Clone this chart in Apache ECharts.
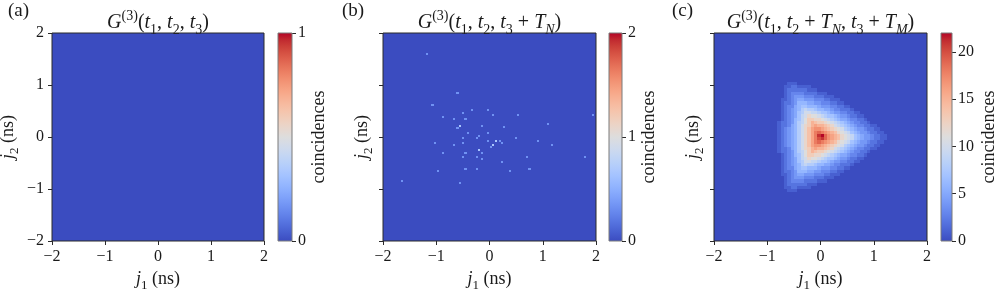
<!DOCTYPE html>
<html>
<head>
<meta charset="utf-8">
<script src="https://cdn.jsdelivr.net/npm/echarts@6.0.0/dist/echarts.min.js"></script>
<style>
html, body { margin: 0; padding: 0; background: #ffffff; }
#chart { width: 997px; height: 290px; }
</style>
</head>
<body>
<div id="chart"></div>
<script>
// ===================== DATA =====================
const axisTickValues = [-2, -1, 0, 1, 2];
const panelLetters = ['(a)', '(b)', '(c)'];
const panelTitles = [
  '{i|G}{p|(3)}{n|(}{i|t}{s|1}{n|, }{i|t}{s|2}{n|, }{i|t}{s|3}{n|)}',
  '{i|G}{p|(3)}{n|(}{i|t}{s|1}{n|, }{i|t}{s|2}{n|, }{i|t}{s|3}{n| + }{i|T}{si|N}{n|)}',
  '{i|G}{p|(3)}{n|(}{i|t}{s|1}{n|, }{i|t}{s|2}{n| + }{i|T}{si|N}{n|, }{i|t}{s|3}{n| + }{i|T}{si|M}{n|)}'
];
const xAxisName = '{i|j}{s|1}{n| (ns)}';
const yAxisName = '{i|j}{s|2}{n| (ns)}';
const colorbarName = 'coincidences';
const colorbarMax = [1, 2, 22];
const colorbarTicks = [[0, 1], [0, 1, 2], [0, 5, 10, 15, 20]];

// Counts per bin (64 x 64 bins of 1/16 ns). Rows run from j2 = +2 (top) to j2 = -2 (bottom).
// Row format: "start|digits" -> one base-36 digit per bin beginning at column `start`; "" = all zero.
// (a) no coincidences anywhere
const countsA = [
  "","","","","","","","","","","","","","","","",
  "","","","","","","","","","","","","","","","",
  "","","","","","","","","","","","","","","","",
  "","","","","","","","","","","","","","","",""
];
// (b) background bins (empty) ...
const countsB = [
  "","","","","","","","","","","","","","","","",
  "","","","","","","","","","","","","","","","",
  "","","","","","","","","","","","","","","","",
  "","","","","","","","","","","","","","","",""
];
// ... and the isolated coincidence events of (b): position (ns) and count
const eventsB_j1 = [-1.18, -0.60, -1.07, -0.33, -0.03, -0.50, 0.07, 0.54, 1.95, -0.87,
  -0.66, -0.45, 1.10, -0.55, -0.60, -0.14, 0.27, -0.40, -0.03, -0.19,
  -0.49, -0.24, 0.49, 0.91, -0.03, 0.13, 0.20, 0.23, 0.07, -1.02,
  -0.49, -0.66, 1.17, 0.02, -0.19, -0.14, -0.87, -0.45, -0.24, -0.49,
  0.70, 1.79, -0.14, 0.23, -0.97, -0.45, -0.24, 0.38, 0.75, -1.65, -0.55];
const eventsB_j2 = [1.60, 0.84, 0.61, 0.52, 0.52, 0.47, 0.43, 0.43, 0.43, 0.39,
  0.34, 0.34, 0.25, 0.21, 0.17, 0.21, 0.20, 0.07, 0.07, 0.02,
  -0.02, -0.02, -0.02, -0.07, -0.07, -0.07, -0.07, -0.11, -0.16, -0.11,
  -0.11, -0.16, -0.16, -0.20, -0.25, -0.30, -0.30, -0.30, -0.38, -0.38,
  -0.38, -0.38, -0.42, -0.48, -0.65, -0.62, -0.62, -0.65, -0.62, -0.84, -0.88];
const eventsB_count = [1, 1, 1, 1, 1, 1, 1, 1, 1, 1,
  1, 1, 1, 2, 1, 1, 1, 1, 1, 1,
  1, 1, 1, 1, 1, 2, 1, 1, 2, 1,
  1, 1, 1, 1, 2, 1, 1, 1, 1, 1,
  1, 1, 1, 1, 1, 1, 1, 1, 1, 1, 1];
// (c) counts
const countsC = [
  "", "", "", "", "", "", "", "", "", "", "", "", "", "", "",
  "22|111",
  "21|11221111",
  "21|1222222111",
  "21|1233332222111",
  "21|123444333222111",
  "20|112345544433322111",
  "20|1223466655443332211",
  "20|123356776665444332211",
  "20|1234568988766554332221",
  "20|1234578aa998776544332211",
  "20|1234579acbba9877654432211",
  "20|1234679bddccba987655433221",
  "19|12234689bdfeddcba98765433221",
  "19|1223568acdfgffedca987654332211",
  "19|1234568aceghhgfedcba87654432211",
  "19|1234568acegijihgfecba97654432211",
  "19|1234568acegilmjhgfecba97654432211",
  "19|1234568acegikljhgfecba97654432211",
  "19|1234568acegijihgfecba97654432211",
  "19|1234568aceghhgfedcba87654432211",
  "19|1223568acdfgffedca987654332211",
  "19|12234689bdfeddcba98765433221",
  "20|1234679bddccba987655433221",
  "20|1234579acbba9877654432211",
  "20|1234578aa998776544332211",
  "20|1234568988766554332221",
  "20|123356776665444332211",
  "20|1223466655443332211",
  "20|112345544433322111",
  "21|123444333222111",
  "21|1233332222111",
  "21|1222222111",
  "21|11221111",
  "22|111",
  "", "", "", "", "", "", "", "", "", "", "", "", "", "", ""
];

// ===================== STYLE / LAYOUT =====================
const FONT = "'Liberation Serif', 'Times New Roman', serif";
const INK = '#1a1a1a';
const SPINE = '#2a2a2a';
const CB_EDGE = '#7a7a7a';
const COOLWARM = ['#3b4cc0','#445acc','#4d68d7','#5775e1','#6282ea','#6c8ef1','#779af7','#82a5fb',
  '#8db0fe','#98b9ff','#a3c2ff','#aec9fd','#b8d0f9','#c2d5f4','#ccd9ee','#d5dbe6','#dddddd',
  '#e5d8d1','#ecd3c5','#f1ccb8','#f5c4ac','#f7bba0','#f7b194','#f7a687','#f49a7b','#f18d6f',
  '#ec7f63','#e57058','#de604d','#d55042','#cb3e38','#c0282f','#b40426'];
const NB = 64;
const BIN = 4 / NB;
const EVENT_BIN = 0.04;
const EVENT_COLOR_MAX = 6; // tiny single events appear blended with the background in the raster

const mainGrid = [
  { left: 52, top: 33, width: 212, height: 208 },
  { left: 383, top: 33, width: 213, height: 208 },
  { left: 714, top: 33, width: 213, height: 208 }
];
const cbGrid = [
  { left: 278, top: 33, width: 14, height: 208 },
  { left: 609, top: 33, width: 13, height: 208 },
  { left: 941, top: 33, width: 11, height: 208 }
];
const titleCenters = [158, 489.5, 820.5];
const letterLeft = [8, 342, 672];
const yNameGap = [31, 8, 8];
const cbNameGap = [16, 18, 28];

// ===================== BUILD =====================
function decodeCounts(rows) {
  const cells = [];
  for (let k = 0; k < rows.length; k++) {
    const vals = new Array(NB).fill(0);
    if (rows[k]) {
      const parts = rows[k].split('|');
      const start = parseInt(parts[0], 10);
      for (let t = 0; t < parts[1].length; t++) vals[start + t] = parseInt(parts[1][t], 36);
    }
    for (let i = 0; i < NB; i++) cells.push([-2 + BIN * (i + 0.5), 2 - BIN * (k + 0.5), vals[i]]);
  }
  return cells;
}
const cellsA = decodeCounts(countsA);
const cellsB = decodeCounts(countsB);
const cellsC = decodeCounts(countsC);
const eventsB = eventsB_j1.map((x, n) => [x, eventsB_j2[n], eventsB_count[n]]);

function cellRenderer(w) {
  return function (params, api) {
    const x = api.value(0), y = api.value(1);
    const p0 = api.coord([x - w / 2, y + w / 2]);
    const p1 = api.coord([x + w / 2, y - w / 2]);
    const x0 = Math.round(p0[0]), y0 = Math.round(p0[1]);
    const x1 = Math.round(p1[0]), y1 = Math.round(p1[1]);
    return {
      type: 'rect',
      shape: { x: x0, y: y0, width: Math.max(1, x1 - x0), height: Math.max(1, y1 - y0) },
      style: { fill: api.visual('color') }
    };
  };
}
function colorbarRenderer(vmax) {
  return function (params, api) {
    const p0 = api.coord([0, vmax]);
    const p1 = api.coord([1, 0]);
    return {
      type: 'rect',
      shape: { x: p0[0], y: p0[1], width: p1[0] - p0[0], height: p1[1] - p0[1] },
      style: {
        fill: new echarts.graphic.LinearGradient(0, 1, 0, 0,
          COOLWARM.map((c, n) => ({ offset: n / (COOLWARM.length - 1), color: c })))
      }
    };
  };
}
function mathRich(size, sub) {
  const base = { fontFamily: FONT, color: INK, fontWeight: 'normal' };
  return {
    n: Object.assign({}, base, { fontSize: size, lineHeight: size + 8 }),
    i: Object.assign({}, base, { fontSize: size, fontStyle: 'italic', lineHeight: size + 8 }),
    s: Object.assign({}, base, { fontSize: sub, lineHeight: sub + 7, verticalAlign: 'bottom' }),
    si: Object.assign({}, base, { fontSize: sub, fontStyle: 'italic', lineHeight: sub + 7, verticalAlign: 'bottom' }),
    p: Object.assign({}, base, { fontSize: sub, lineHeight: sub, verticalAlign: 'top' })
  };
}
const fmtTick = v => (v < 0 ? '\u2212' + Math.abs(v) : String(v));
const tickStyle = { show: true, inside: false, length: 4, lineStyle: { color: SPINE, width: 1 } };
const labelFont = { color: INK, fontFamily: FONT, fontSize: 16 };

const titles = [];
for (let p = 0; p < 3; p++) {
  titles.push({
    text: panelTitles[p], left: titleCenters[p], top: 9, textAlign: 'center', padding: 0,
    textStyle: { fontFamily: FONT, fontWeight: 'normal', color: INK, fontSize: 20, rich: mathRich(20, 14) }
  });
  titles.push({
    text: panelLetters[p], left: letterLeft[p], top: 1, padding: 0,
    textStyle: { fontFamily: FONT, fontWeight: 'normal', color: INK, fontSize: 19, lineHeight: 20 }
  });
}

const grids = [];
mainGrid.forEach(g => grids.push(Object.assign({}, g, {
  show: true, borderColor: SPINE, borderWidth: 1, backgroundColor: 'transparent',
  z: 10, containLabel: false, outerBoundsMode: 'none'
})));
cbGrid.forEach(g => grids.push(Object.assign({}, g, {
  show: true, borderColor: CB_EDGE, borderWidth: 1, backgroundColor: 'transparent',
  z: 10, containLabel: false, outerBoundsMode: 'none'
})));

const noLine = { show: false, onZero: false };
const xAxes = [], yAxes = [];
for (let p = 0; p < 3; p++) {
  xAxes.push({
    gridIndex: p, type: 'value', min: -2, max: 2, interval: 1, position: 'bottom',
    axisLine: noLine, splitLine: { show: false },
    axisTick: Object.assign({ customValues: axisTickValues }, tickStyle),
    axisLabel: Object.assign({ show: true, margin: 8, formatter: fmtTick, customValues: axisTickValues }, labelFont),
    name: xAxisName, nameLocation: 'middle', nameGap: 24,
    nameTextStyle: { fontFamily: FONT, fontSize: 18, color: INK, rich: mathRich(18, 13) }
  });
  yAxes.push({
    gridIndex: p, type: 'value', min: -2, max: 2, interval: 1, position: 'left',
    axisLine: noLine, splitLine: { show: false },
    axisTick: Object.assign({ customValues: axisTickValues }, tickStyle),
    axisLabel: Object.assign({ show: p === 0, margin: 8, formatter: fmtTick, customValues: axisTickValues }, labelFont),
    name: yAxisName, nameLocation: 'middle', nameGap: yNameGap[p], nameRotate: 90,
    nameTextStyle: { fontFamily: FONT, fontSize: 18, color: INK, rich: mathRich(18, 13) }
  });
}
for (let p = 0; p < 3; p++) {
  xAxes.push({ gridIndex: 3 + p, type: 'value', min: 0, max: 1, show: false, axisLine: noLine });
  yAxes.push({
    gridIndex: 3 + p, type: 'value', position: 'right', min: 0, max: colorbarMax[p],
    axisLine: noLine, splitLine: { show: false },
    axisTick: Object.assign({ customValues: colorbarTicks[p] }, tickStyle),
    axisLabel: Object.assign({ show: true, margin: 6, customValues: colorbarTicks[p] }, labelFont),
    name: colorbarName, nameLocation: 'middle', nameRotate: 90, nameGap: cbNameGap[p],
    nameTextStyle: { fontFamily: FONT, fontSize: 18, color: INK }
  });
}

const vm = (si, max) => ({
  type: 'continuous', show: false, seriesIndex: si, dimension: 2, min: 0, max: max,
  inRange: { color: COOLWARM }
});

const heat = (axis, data, w, z) => ({
  type: 'custom', xAxisIndex: axis, yAxisIndex: axis, data: data,
  encode: { x: 0, y: 1 }, renderItem: cellRenderer(w), silent: true,
  progressive: 0, clip: true, z: z, animation: false
});

const series = [
  heat(0, cellsA, BIN, 2),
  heat(1, cellsB, BIN, 2),
  heat(1, eventsB, EVENT_BIN, 3),
  heat(2, cellsC, BIN, 2)
];
for (let p = 0; p < 3; p++) {
  series.push({
    type: 'custom', xAxisIndex: 3 + p, yAxisIndex: 3 + p, data: [[0, 0]],
    encode: { x: 0, y: 1 }, renderItem: colorbarRenderer(colorbarMax[p]),
    silent: true, animation: false, z: 2
  });
}

const chart = echarts.init(document.getElementById('chart'), null, { renderer: 'canvas' });
chart.setOption({
  animation: false,
  backgroundColor: '#ffffff',
  title: titles,
  grid: grids,
  xAxis: xAxes,
  yAxis: yAxes,
  visualMap: [vm(0, colorbarMax[0]), vm(1, colorbarMax[1]), vm(2, EVENT_COLOR_MAX), vm(3, colorbarMax[2])],
  series: series
});
</script>
</body>
</html>
